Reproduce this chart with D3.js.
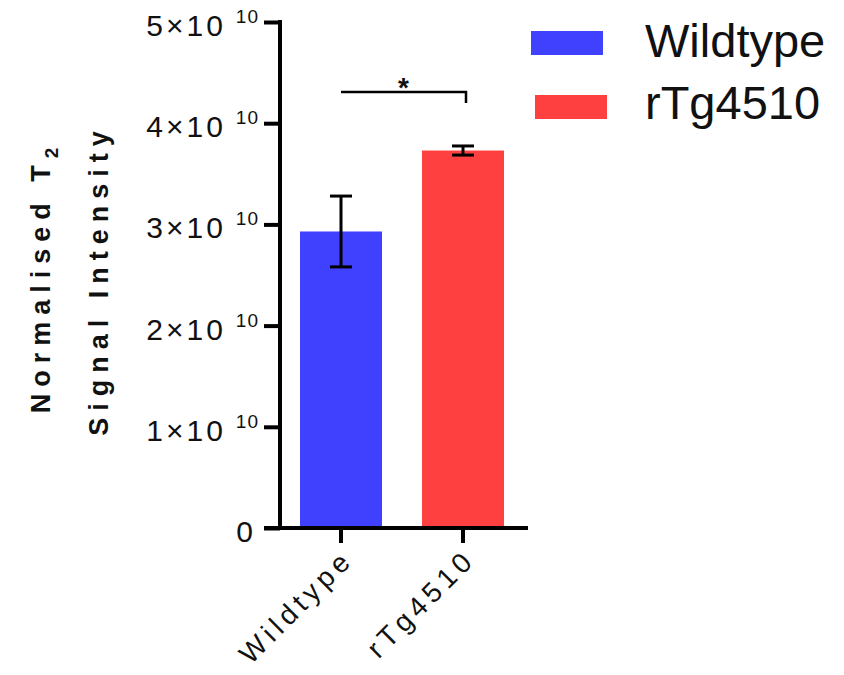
<!DOCTYPE html>
<html>
<head>
<meta charset="utf-8">
<script src="https://cdn.jsdelivr.net/npm/d3@7"></script>
<style>
  html, body { margin: 0; padding: 0; background: #fff; }
  svg { display: block; font-family: Arial, "Liberation Sans", sans-serif; }
</style>
</head>
<body>
<svg id="chart" width="844" height="675"></svg>
<script>
// ============ Data ============
const categories = ["Wildtype", "rTg4510"];
const means = [2.93e10, 3.73e10];
const sems = [0.35e10, 0.045e10];
const colors = ["#4040ff", "#ff4040"];
const yTicks = [0, 1e10, 2e10, 3e10, 4e10, 5e10];
const sigPair = ["Wildtype", "rTg4510"];
const sigLabel = "*";

// ============ Layout ============
const svg = d3.select("#chart");
const X0 = 280, X1 = 528, Y0 = 528, Y1 = 22;

const x = d3.scaleBand()
  .domain(categories)
  .range([X0, 524])
  .paddingInner(0.328)
  .paddingOuter(0.164);

const y = d3.scaleLinear()
  .domain([0, 5e10])
  .range([Y0, Y1]);

const color = d3.scaleOrdinal().domain(categories).range(colors);

const rows = categories.map((c, i) => ({ cat: c, mean: means[i], sem: sems[i] }));

// ---- Bars ----
svg.append("g").selectAll("rect")
  .data(rows)
  .enter().append("rect")
  .attr("x", d => x(d.cat))
  .attr("y", d => y(d.mean))
  .attr("width", x.bandwidth())
  .attr("height", d => Y0 - y(d.mean))
  .attr("fill", d => color(d.cat));

// ---- Error bars ----
const eb = svg.append("g").attr("stroke", "#000").attr("stroke-width", 3);
rows.forEach(d => {
  const cx = x(d.cat) + x.bandwidth() / 2;
  eb.append("line").attr("x1", cx).attr("x2", cx)
    .attr("y1", y(d.mean + d.sem)).attr("y2", y(d.mean - d.sem));
  [d.mean + d.sem, d.mean - d.sem].forEach(v => {
    eb.append("line").attr("x1", cx - 11).attr("x2", cx + 11)
      .attr("y1", y(v)).attr("y2", y(v));
  });
});

// ---- Y axis ----
const yAxis = svg.append("g")
  .attr("transform", `translate(${X0},0)`)
  .call(d3.axisLeft(y).tickValues(yTicks).tickSize(16).tickFormat(""));
yAxis.select(".domain").remove();
yAxis.selectAll(".tick line").attr("stroke", "#000").attr("stroke-width", 4);
svg.append("line")
  .attr("x1", X0).attr("x2", X0).attr("y1", Y1 - 2).attr("y2", Y0 + 2)
  .attr("stroke", "#000").attr("stroke-width", 4);

const yLab = svg.append("g");
yTicks.forEach(v => {
  const t = yLab.append("text")
    .attr("x", v === 0 ? 253 : 259)
    .attr("y", y(v) + 14)
    .attr("text-anchor", "end")
    .attr("font-size", 30)
    .attr("fill", "#111");
  if (v === 0) {
    t.text("0");
  } else {
    t.append("tspan").attr("letter-spacing", 3).text(`${Math.round(v / 1e10)}×10`);
    t.append("tspan").attr("dx", 10).attr("dy", -13).attr("font-size", 19)
      .attr("letter-spacing", 1).text("10");
  }
});

// ---- X axis ----
svg.append("line")
  .attr("x1", 264).attr("x2", X1).attr("y1", Y0).attr("y2", Y0)
  .attr("stroke", "#000").attr("stroke-width", 4);
const xAxis = svg.append("g")
  .attr("transform", `translate(0,${Y0})`)
  .call(d3.axisBottom(x).tickSize(15).tickFormat(""));
xAxis.select(".domain").remove();
xAxis.selectAll(".tick line").attr("stroke", "#000").attr("stroke-width", 4);

svg.append("g").selectAll("text")
  .data(categories)
  .enter().append("text")
  .attr("transform", d => `translate(${x(d) + x.bandwidth() / 2 + 14},${Y0 + 33}) rotate(-45)`)
  .attr("text-anchor", "end")
  .attr("font-size", 28)
  .attr("letter-spacing", 5)
  .attr("fill", "#111")
  .text(d => d);

// ---- Y axis title ----
const title = svg.append("g").attr("font-weight", "bold").attr("fill", "#111");
const t1 = title.append("text")
  .attr("transform", "translate(50,277) rotate(-90)")
  .attr("text-anchor", "middle")
  .attr("font-size", 27)
  .attr("letter-spacing", 7);
t1.append("tspan").text("Normalised T");
t1.append("tspan").attr("dy", 8).attr("font-size", 19).text("2");
title.append("text")
  .attr("transform", "translate(108,280) rotate(-90)")
  .attr("text-anchor", "middle")
  .attr("font-size", 27)
  .attr("letter-spacing", 7)
  .text("Signal Intensity");

// ---- Significance bracket ----
const sx1 = x(sigPair[0]) + x.bandwidth() / 2;
const sx2 = x(sigPair[1]) + x.bandwidth() / 2 + 3;
svg.append("path")
  .attr("d", `M${sx1},92 H${sx2} V103`)
  .attr("fill", "none").attr("stroke", "#000").attr("stroke-width", 2.5);
svg.append("text")
  .attr("x", (sx1 + sx2) / 2).attr("y", 97)
  .attr("text-anchor", "middle").attr("font-size", 28).attr("font-weight", "bold")
  .attr("fill", "#111")
  .text(sigLabel);

// ---- Legend ----
const legend = svg.append("g");
categories.forEach((c, i) => {
  legend.append("rect")
    .attr("x", 531 + i * 4).attr("y", 31 + i * 64)
    .attr("width", 72).attr("height", 24)
    .attr("fill", color(c));
  legend.append("text")
    .attr("x", 645).attr("y", 57 + i * 62)
    .attr("font-size", 47).attr("fill", "#111")
    .text(c);
});
</script>
</body>
</html>
